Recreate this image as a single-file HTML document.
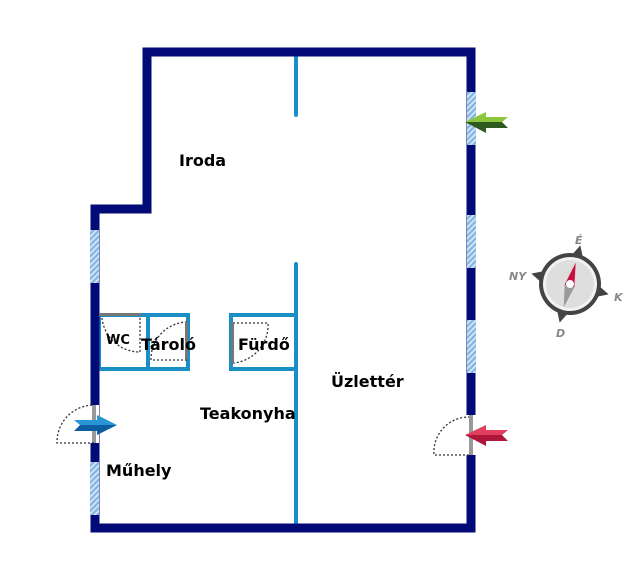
<!DOCTYPE html>
<html><head><meta charset="utf-8"><style>
html,body{margin:0;padding:0;background:#fff;width:640px;height:568px;overflow:hidden}
text{font-family:"DejaVu Sans","Liberation Sans",sans-serif;font-weight:bold;fill:#000}
</style></head><body>
<svg width="640" height="568" viewBox="0 0 640 568" xmlns="http://www.w3.org/2000/svg">
<defs>
<pattern id="h" width="4" height="4" patternUnits="userSpaceOnUse" patternTransform="rotate(45)">
<rect width="4" height="4" fill="#cfe3f5"/><rect width="2" height="4" fill="#7fb3e0"/>
</pattern>
</defs>
<g stroke="#1a8fc6" stroke-width="4" fill="none" stroke-linecap="round">
<line x1="296" y1="55" x2="296" y2="115"/>
<line x1="296" y1="264" x2="296" y2="525"/>
<rect x="99" y="315" width="89" height="54"/>
<line x1="148" y1="315" x2="148" y2="369"/>
<rect x="231" y="315" width="65" height="54"/>
</g>
<path d="M95 528 V209 H147 V52 H471 V528 Z" fill="none" stroke="#020a78" stroke-width="9" stroke-linejoin="miter"/>
<g fill="url(#h)">
<rect x="467" y="92" width="9" height="53"/>
<rect x="467" y="215" width="9" height="53"/>
<rect x="467" y="320" width="9" height="53"/>
<rect x="90" y="230" width="9" height="53"/>
<rect x="90" y="462" width="9" height="53"/>
</g>
<rect x="90" y="405" width="9" height="38" fill="#fff"/>
<rect x="92" y="405" width="4" height="38" fill="#999"/>
<rect x="466" y="415" width="10" height="40" fill="#fff"/>
<rect x="469" y="415" width="4" height="40" fill="#999"/>
<g stroke="#333" stroke-width="1.3" stroke-dasharray="2,2" fill="none">
<path d="M94 443 H57 A37 37 0 0 1 94 405"/>
<path d="M469 455 H434 A35 35 0 0 1 469 417"/>
<path d="M102 318 A38 38 0 0 0 140 352 V317"/>
<path d="M187 322 A37 37 0 0 0 151 360 H187"/>
<path d="M233 323 H268 A38 38 0 0 1 233 363"/>
</g>
<rect x="99" y="313" width="42" height="3" fill="#777"/>
<rect x="185" y="322" width="3" height="37" fill="#777"/>
<rect x="231" y="322" width="3" height="41" fill="#777"/>
<polygon points="465,122 486,112 486,117 508,117 502,122" fill="#8cc63f"/>
<polygon points="465,122 502,122 508,128 486,128 486,133" fill="#2d5a1e"/>
<polygon points="465,435 486,425 486,430 508,430 502,435" fill="#e0405e"/>
<polygon points="465,435 502,435 508,441 486,441 486,446" fill="#b0153a"/>
<polygon points="117,425 97,415 97,420 74,420 80,425" fill="#2a95d4"/>
<polygon points="117,425 80,425 74,431 97,431 97,435" fill="#0c5ea0"/>
<g transform="translate(570,284)">
<g transform="rotate(15)">
<polygon points="0,-40 -6,-28 6,-28" fill="#444"/>
<polygon points="0,40 -6,28 6,28" fill="#444"/>
<polygon points="-40,0 -28,-6 -28,6" fill="#444"/>
<polygon points="40,0 28,-6 28,6" fill="#444"/>
<circle r="31" fill="#444"/>
<circle r="27" fill="#f2f2f2"/>
<circle r="24" fill="#dedede"/>
<polygon points="0,-22 -5,2 5,2" fill="#c8103e"/>
<polygon points="0,24 -5,2 5,2" fill="#999"/>
<circle r="4" fill="#fff"/>
</g>
<text x="5" y="-40" font-size="11" style="fill:#888;font-style:italic">É</text>
<text x="-61" y="-4" font-size="11" style="fill:#888;font-style:italic">NY</text>
<text x="44" y="17" font-size="11" style="fill:#888;font-style:italic">K</text>
<text x="-14" y="53" font-size="11" style="fill:#888;font-style:italic">D</text>
</g>
<text x="179" y="166" font-size="16">Iroda</text>
<text x="331" y="387" font-size="16">Üzlettér</text>
<text x="200" y="419" font-size="16">Teakonyha</text>
<text x="106" y="476" font-size="16">Műhely</text>
<text x="106" y="344" font-size="13">WC</text>
<text x="141" y="350" font-size="16">Tároló</text>
<text x="238" y="350" font-size="16">Fürdő</text>
</svg>
</body></html>
